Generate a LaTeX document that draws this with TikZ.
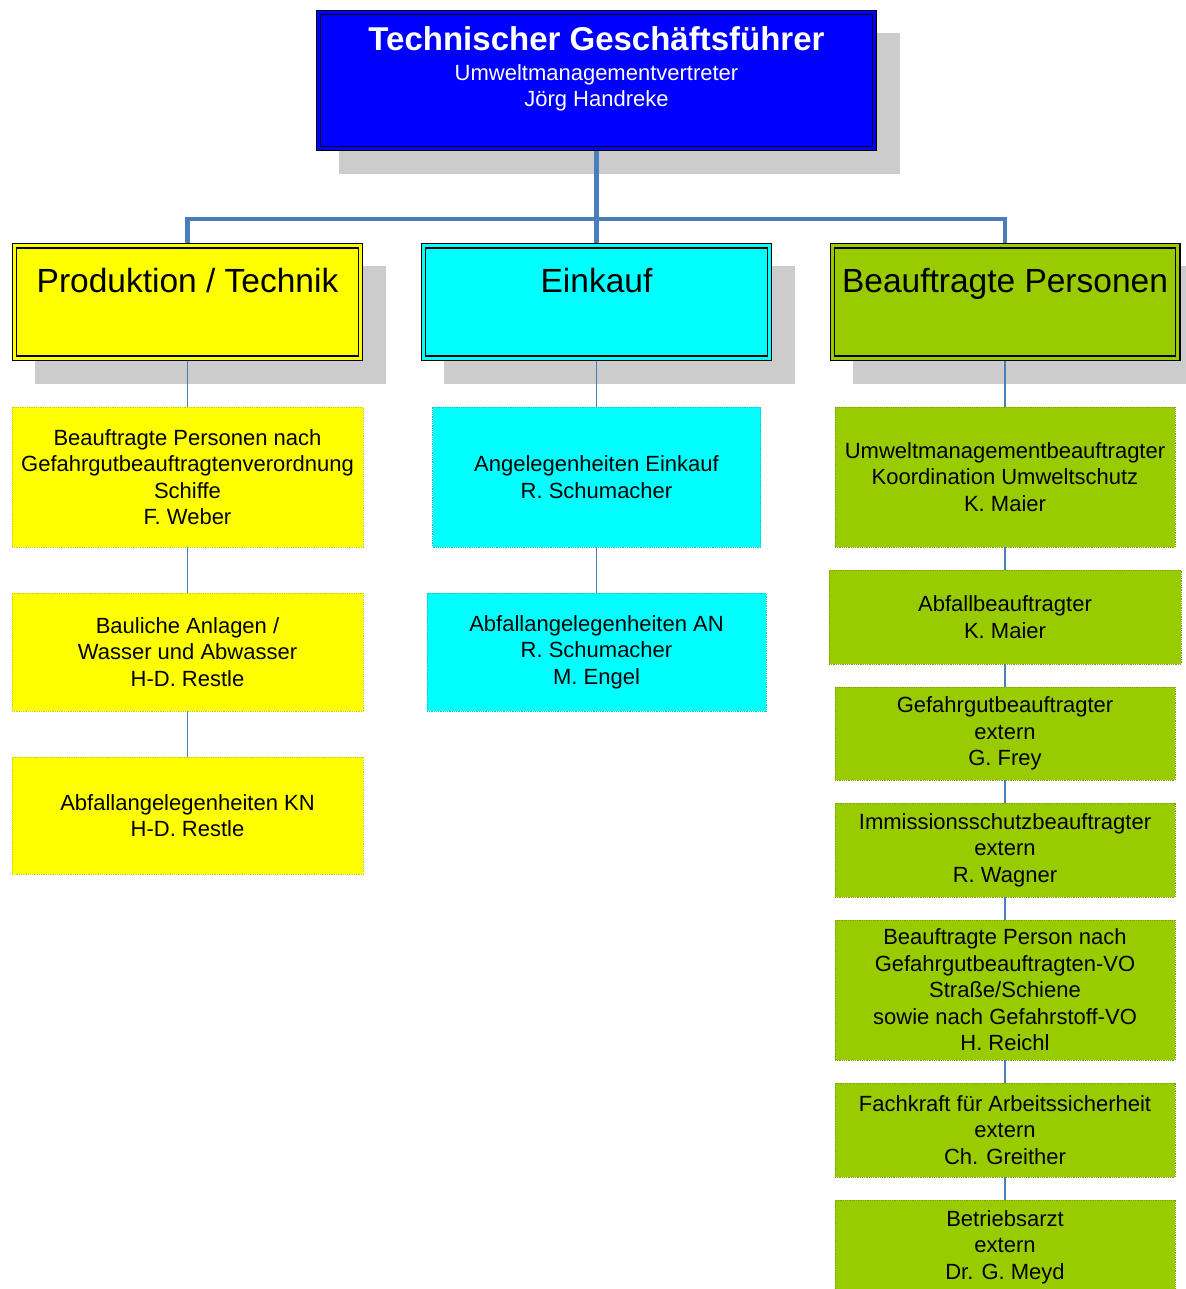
\documentclass[tikz,border=0pt]{standalone}
\usepackage{fontspec}
\setmainfont{Liberation Sans}
\usetikzlibrary{positioning,shadows}
\definecolor{gfblau}{HTML}{0000FF}
\definecolor{prodgelb}{HTML}{FFFF00}
\definecolor{einkcyan}{HTML}{00FFFF}
\definecolor{beaufgruen}{HTML}{99CC00}
\definecolor{linie}{HTML}{4A7EBB}
\definecolor{schatten}{HTML}{CCCCCC}
\tikzset{
  leitung/.style={draw=black, line width=1.2pt, double=#1, double distance=3pt, fill=#1,
    inner sep=0pt, outer sep=0pt,
    drop shadow={shadow xshift=23pt, shadow yshift=-23pt, fill=schatten, draw=schatten, line width=5.4pt, opacity=1}},
  posten/.style={draw=#1!80!black, densely dotted, line width=0.8pt, fill=#1,
    inner sep=0pt, outer sep=0pt, align=center, font=\fontsize{22}{26.5}\selectfont},
  kopftext/.style={font=\fontsize{33.5}{40}\selectfont, inner sep=0pt, anchor=base},
  dick/.style={draw=linie, line width=4.5pt},
  duenn/.style={draw=linie, line width=1.4pt}
}
\begin{document}
\begin{tikzpicture}[x=1pt,y=-1pt]
        \useasboundingbox (0,0) rectangle (1185,1289);
        \node[leitung=gfblau, minimum width=555.6pt, minimum height=135.6pt] (gf) at (596.5,80.5) {};
        \node[font=\fontsize{22}{26}\selectfont, text=white, align=center, inner sep=0pt, anchor=north] (gfT)
                at ([yshift=-14pt]gf.north) {{\fontsize{33}{31}\selectfont\bfseries Technischer Geschäftsführer}\\[4pt]
                Umweltmanagementvertreter\\Jörg Handreke};
        \node[leitung=prodgelb, minimum width=345.6pt, minimum height=112pt] (pt) at (187.5,302) {};
        \node[leitung=einkcyan, minimum width=345.6pt, minimum height=112pt] (ek) at (596.5,302) {};
        \node[leitung=beaufgruen, minimum width=345.6pt, minimum height=112pt] (bp) at (1005,302) {};
        \node[kopftext] (ptT) at ([yshift=-46pt]pt.north) {Produktion / Technik};
        \node[kopftext] (ekT) at ([yshift=-46pt]ek.north) {Einkauf};
        \node[kopftext] (bpT) at ([yshift=-46pt]bp.north) {Beauftragte Personen};
        \node[posten=prodgelb, minimum width=351pt, minimum height=140pt] (pt1) at (187.5,477)
                {Beauftragte Personen nach\\Gefahrgutbeauftragtenverordnung\\Schiffe\\F. Weber};
        \node[posten=prodgelb, minimum width=351pt, minimum height=118pt, below=46pt of pt1] (pt2)
                {Bauliche Anlagen /\\Wasser und Abwasser\\H-D. Restle};
        \node[posten=prodgelb, minimum width=351pt, minimum height=117pt, below=46pt of pt2] (pt3)
                {Abfallangelegenheiten KN\\H-D. Restle};
        \node[posten=einkcyan, minimum width=328pt, minimum height=140pt] (ek1) at (596.5,477)
                {Angelegenheiten Einkauf\\R. Schumacher};
        \node[posten=einkcyan, minimum width=339pt, minimum height=118pt, below=46pt of ek1] (ek2)
                {Abfallangelegenheiten AN\\R. Schumacher\\M. Engel};
        \node[posten=beaufgruen, minimum width=340pt, minimum height=140pt] (bp1) at (1005,477)
                {Umweltmanagementbeauftragter\\Koordination Umweltschutz\\K. Maier};
        \node[posten=beaufgruen, minimum width=352pt, minimum height=94pt, below=23pt of bp1] (bp2)
                {Abfallbeauftragter\\K. Maier};
        \node[posten=beaufgruen, minimum width=340pt, minimum height=93pt, below=23pt of bp2] (bp3)
                {Gefahrgutbeauftragter\\extern\\G. Frey};
        \node[posten=beaufgruen, minimum width=340pt, minimum height=94pt, below=23pt of bp3] (bp4)
                {Immissionsschutzbeauftragter\\extern\\R. Wagner};
        \node[posten=beaufgruen, minimum width=340pt, minimum height=140pt, below=23pt of bp4] (bp5)
                {Beauftragte Person nach\\Gefahrgutbeauftragten-VO\\Straße/Schiene\\sowie nach Gefahrstoff-VO\\H. Reichl};
        \node[posten=beaufgruen, minimum width=340pt, minimum height=94pt, below=23pt of bp5] (bp6)
                {Fachkraft für Arbeitssicherheit\\extern\\Ch. Greither};
        \node[posten=beaufgruen, minimum width=340pt, minimum height=94pt, below=23pt of bp6] (bp7)
                {Betriebsarzt\\extern\\Dr. G. Meyd};
        \coordinate (bus) at (596.5,219);
        \draw[dick, shorten <=2.7pt] (gf.south) -- (bus);
        \foreach \k in {pt,ek,bp}
                \draw[dick, shorten >=2.7pt] (bus) -| (\k.north);
        \foreach \k in {pt,ek,bp}
                \draw[duenn, shorten <=2.7pt] (\k.south) -- (\k1.north);
        \foreach \a/\b in {pt1/pt2,pt2/pt3,ek1/ek2,bp1/bp2,bp2/bp3,bp3/bp4,bp4/bp5,bp5/bp6,bp6/bp7}
                \draw[duenn] (\a.south) -- (\b.north);
\end{tikzpicture}
\end{document}
